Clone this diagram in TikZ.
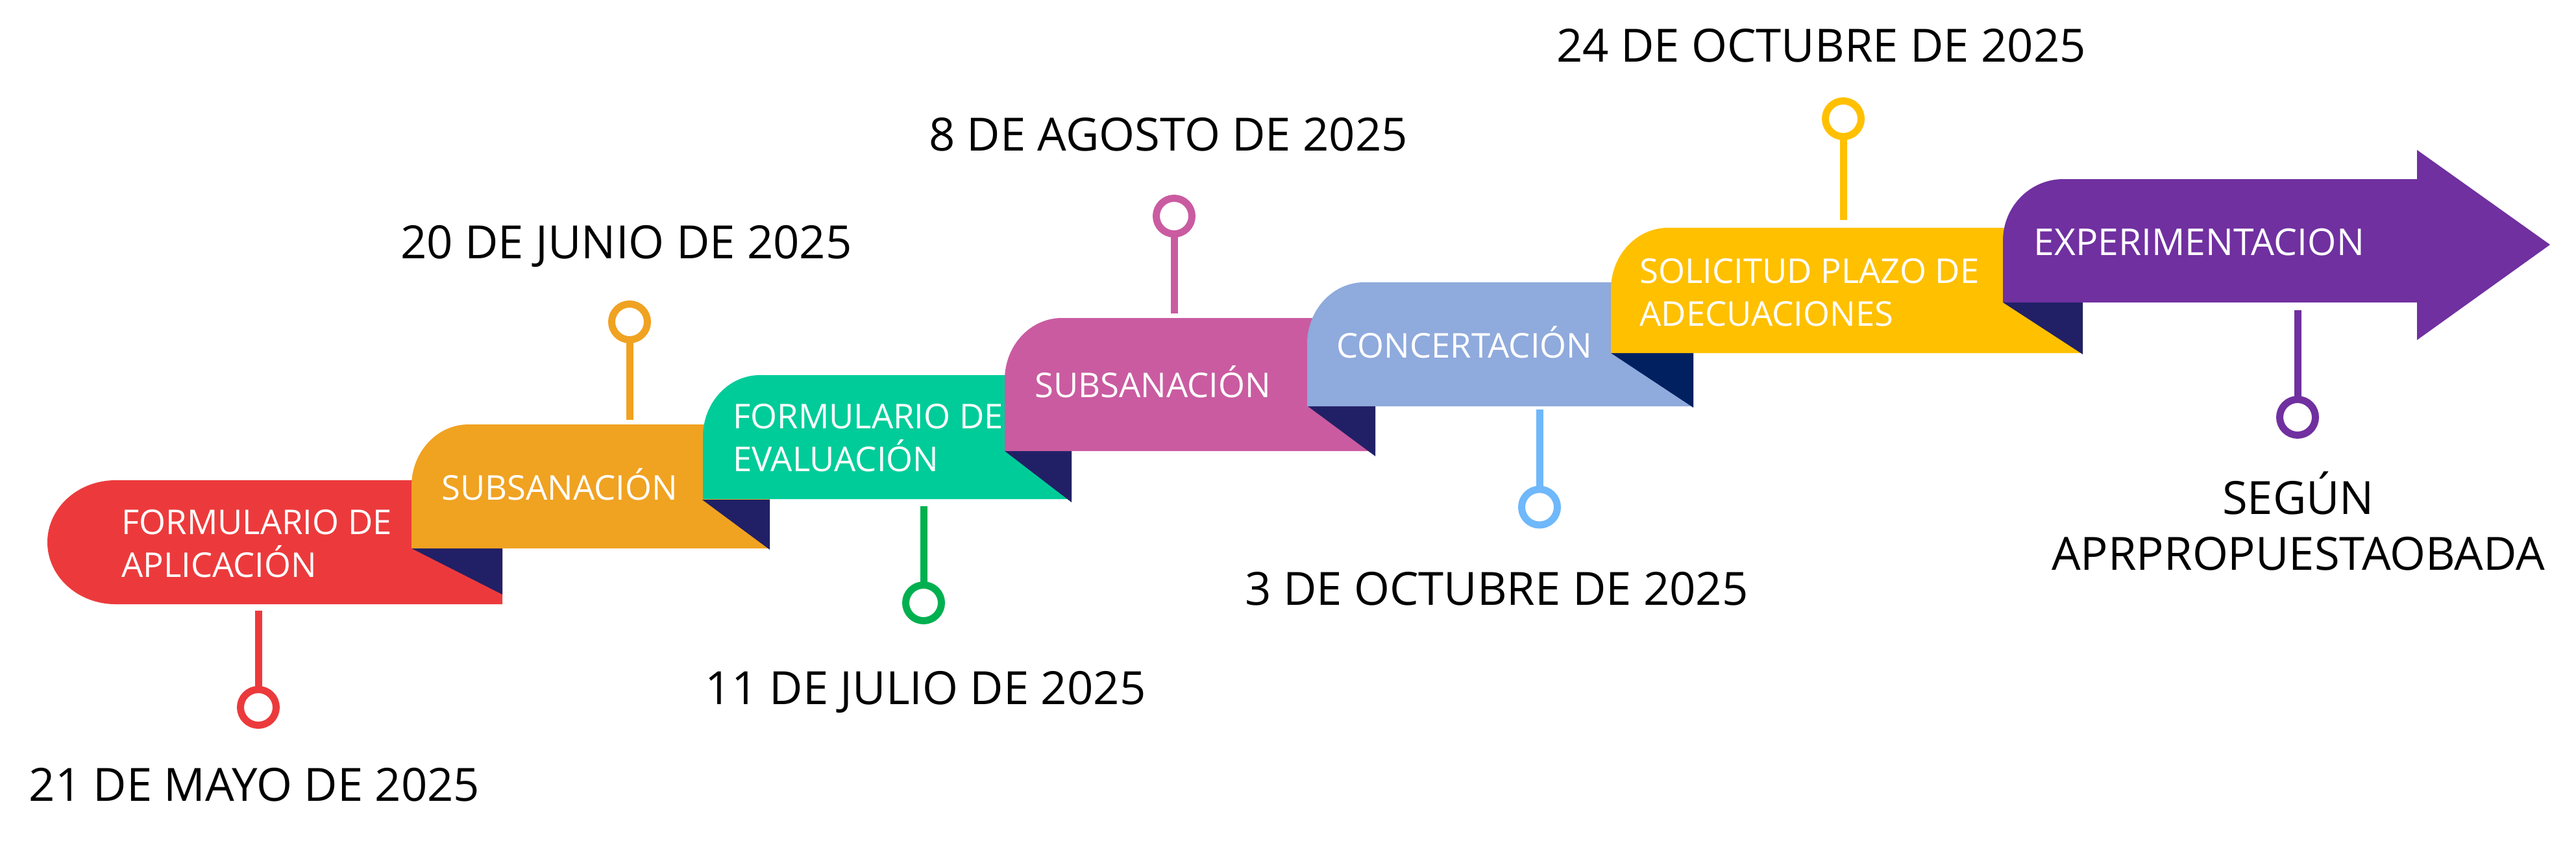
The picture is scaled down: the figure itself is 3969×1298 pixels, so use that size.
\documentclass[tikz,border=0pt]{standalone}
\usepackage{fontspec}
\setmainfont{Open Sans}
\definecolor{redc}{HTML}{EC3A3C}
\definecolor{orangec}{HTML}{F0A221}
\definecolor{greenc}{HTML}{00CC99}
\definecolor{magc}{HTML}{CA5BA1}
\definecolor{bluec}{HTML}{8FAADC}
\definecolor{yellowc}{HTML}{FFC000}
\definecolor{purplec}{HTML}{7030A0}
\definecolor{navyc}{HTML}{212066}
\definecolor{navyb}{HTML}{002060}
\definecolor{pingreen}{HTML}{00B050}
\definecolor{pinblue}{HTML}{6FB8FB}
\newcommand{\twoleft}[2]{\vtop{\hbox{#1}\hbox{#2}}}
\newcommand{\twocenter}[2]{\vtop{\hbox to 0pt{\hss#1\hss}\hbox to 0pt{\hss#2\hss}}}
\begin{document}
\begin{tikzpicture}[x=0.5pt,y=-0.5pt,
  boxlbl/.style={text=white, inner sep=0pt, anchor=base west, font=\fontsize{26.3}{33}\selectfont},
  datelbl/.style={text=black, inner sep=0pt, anchor=base, font=\fontsize{35.3}{43}\selectfont},
  fold/.style={fill=navyc},
  ring/.style={circle, draw=#1, line width=5.5pt, minimum size=27.5pt, inner sep=0pt, outer sep=0pt},
  stem/.style={draw=#1, line width=5.5pt},
]
\useasboundingbox[fill=white] (0,0) rectangle (3969,1298);

% ribbons
\fill[redc] (774,740) -- (178,740) arc[start angle=270,end angle=180,x radius=105,y radius=95.5]
  arc[start angle=180,end angle=90,x radius=105,y radius=95.5] -- (774,931) -- cycle;
\fill[fold] (634,845) -- (774,845) -- (774,916) -- cycle;

\fill[orangec] (634,845) -- (634,749) arc[start angle=180,end angle=270,x radius=88,y radius=95]
  -- (1186,654) -- (1186,845) -- cycle;
\fill[fold] (1082,770) -- (1186,770) -- (1186,847) -- cycle;

\fill[greenc] (1083,769) -- (1083,673) arc[start angle=180,end angle=270,x radius=88,y radius=95]
  -- (1651,578) -- (1651,769) -- cycle;
\fill[fold] (1548,695) -- (1651,695) -- (1651,774) -- cycle;

\fill[magc] (1548,695) -- (1548,585) arc[start angle=180,end angle=270,x radius=88,y radius=95]
  -- (2119,490) -- (2119,695) -- cycle;
\fill[fold] (2015,626) -- (2119,626) -- (2119,703) -- cycle;

\fill[bluec] (2014,626) -- (2014,530) arc[start angle=180,end angle=270,x radius=88,y radius=95]
  -- (2609,435) -- (2609,626) -- cycle;
\fill[navyb] (2482,544) -- (2609,544) -- (2609,628) -- cycle;

\fill[yellowc] (2482,544) -- (2482,446) arc[start angle=180,end angle=270,x radius=88,y radius=95]
  -- (3209,351) -- (3209,544) -- cycle;
\fill[fold] (3086,466) -- (3209,466) -- (3209,546) -- cycle;

\fill[purplec] (3086,466) -- (3086,371) arc[start angle=180,end angle=270,x radius=93,y radius=95]
  -- (3724,276) -- (3724,231) -- (3929,377) -- (3724,524) -- (3724,466) -- cycle;

% labels in ribbons
\node[boxlbl] (l1) at (187,823) {\twoleft{FORMULARIO DE}{APLICACIÓN}};
\node[boxlbl] (l2) at (680,770) {SUBSANACIÓN};
\node[boxlbl] (l3) at (1129,660) {\twoleft{FORMULARIO DE}{EVALUACIÓN}};
\node[boxlbl] (l4) at (1594,612) {SUBSANACIÓN};
\node[boxlbl] (l5) at (2059,551) {CONCERTACIÓN};
\node[boxlbl] (l6) at (2526,436) {\twoleft{SOLICITUD PLAZO DE}{ADECUACIONES}};
\node[boxlbl, font=\fontsize{28.5}{33}\selectfont] (l7) at (3133,393) {EXPERIMENTACION};

% pins
\node[ring=redc] (p1) at (398,1090) {};
\coordinate (s1) at (398,941);
\draw[stem=redc] (s1) -- (p1.north);

\node[ring=orangec] (p2) at (970,496) {};
\coordinate (s2) at (970,647);
\draw[stem=orangec] (s2) -- (p2.south);

\node[ring=pingreen] (p3) at (1423,929) {};
\coordinate (s3) at (1423,780);
\draw[stem=pingreen] (s3) -- (p3.north);

\node[ring=magc] (p4) at (1809,333) {};
\coordinate (s4) at (1809,483);
\draw[stem=magc] (s4) -- (p4.south);

\node[ring=pinblue] (p5) at (2372,781.5) {};
\coordinate (s5) at (2372,631);
\draw[stem=pinblue] (s5) -- (p5.north);

\node[ring=yellowc] (p6) at (2840,183) {};
\coordinate (s6) at (2840,339);
\draw[stem=yellowc] (s6) -- (p6.south);

\node[ring=purplec] (p7) at (3540,643) {};
\coordinate (s7) at (3540,478);
\draw[stem=purplec] (s7) -- (p7.north);

% dates
\node[datelbl] (d1) at (392,1234) {21 DE MAYO DE 2025};
\node[datelbl] (d2) at (965,398) {20 DE JUNIO DE 2025};
\node[datelbl] (d3) at (1426,1085) {11 DE JULIO DE 2025};
\node[datelbl] (d4) at (1800,232) {8 DE AGOSTO DE 2025};
\node[datelbl] (d5) at (2306,932) {3 DE OCTUBRE DE 2025};
\node[datelbl] (d6) at (2806,95) {24 DE OCTUBRE DE 2025};
\node[datelbl] (d7) at (3541,792) {\twocenter{SEGÚN}{APRPROPUESTAOBADA}};
\end{tikzpicture}
\end{document}
